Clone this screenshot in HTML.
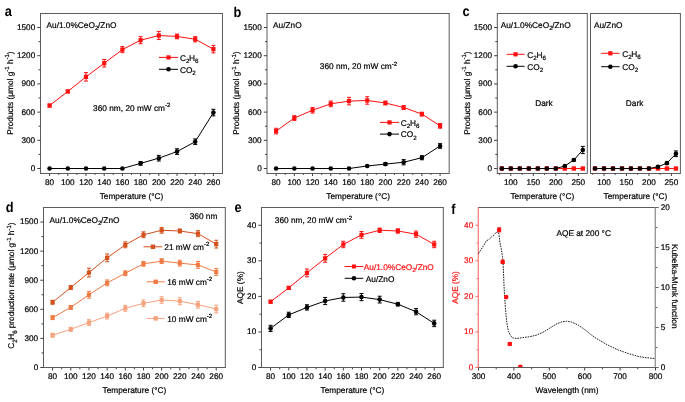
<!DOCTYPE html>
<html><head><meta charset="utf-8"><style>
html,body{margin:0;padding:0;background:#fff;}
svg{display:block;font-family:"Liberation Sans", sans-serif;text-rendering:geometricPrecision;}
</style></head><body>
<svg style="filter:blur(0.3px)" width="685" height="402" viewBox="0 0 685 402">
<rect width="685" height="402" fill="#fff"/>
<text transform="translate(4.8,15.8) scale(0.9,1)" font-size="14.2" font-weight="bold" fill="#000">a</text>
<line x1="40" y1="13.5" x2="223" y2="13.5" stroke="#5c5c5c" stroke-width="1"/>
<line x1="40" y1="173.5" x2="223" y2="173.5" stroke="#5c5c5c" stroke-width="1"/>
<line x1="40.5" y1="13.5" x2="40.5" y2="173.5" stroke="#5c5c5c" stroke-width="1"/>
<line x1="222.5" y1="13.5" x2="222.5" y2="173.5" stroke="#5c5c5c" stroke-width="1"/>
<line x1="49.6" y1="173.5" x2="49.6" y2="176" stroke="#404040" stroke-width="1"/>
<text x="49.6" y="184.9" font-size="8.2" text-anchor="middle" fill="#000" stroke="#000" stroke-width="0.2" font-weight="normal" >80</text>
<line x1="67.8" y1="173.5" x2="67.8" y2="176" stroke="#404040" stroke-width="1"/>
<text x="67.8" y="184.9" font-size="8.2" text-anchor="middle" fill="#000" stroke="#000" stroke-width="0.2" font-weight="normal" >100</text>
<line x1="86" y1="173.5" x2="86" y2="176" stroke="#404040" stroke-width="1"/>
<text x="86" y="184.9" font-size="8.2" text-anchor="middle" fill="#000" stroke="#000" stroke-width="0.2" font-weight="normal" >120</text>
<line x1="104.2" y1="173.5" x2="104.2" y2="176" stroke="#404040" stroke-width="1"/>
<text x="104.2" y="184.9" font-size="8.2" text-anchor="middle" fill="#000" stroke="#000" stroke-width="0.2" font-weight="normal" >140</text>
<line x1="122.4" y1="173.5" x2="122.4" y2="176" stroke="#404040" stroke-width="1"/>
<text x="122.4" y="184.9" font-size="8.2" text-anchor="middle" fill="#000" stroke="#000" stroke-width="0.2" font-weight="normal" >160</text>
<line x1="140.6" y1="173.5" x2="140.6" y2="176" stroke="#404040" stroke-width="1"/>
<text x="140.6" y="184.9" font-size="8.2" text-anchor="middle" fill="#000" stroke="#000" stroke-width="0.2" font-weight="normal" >180</text>
<line x1="158.8" y1="173.5" x2="158.8" y2="176" stroke="#404040" stroke-width="1"/>
<text x="158.8" y="184.9" font-size="8.2" text-anchor="middle" fill="#000" stroke="#000" stroke-width="0.2" font-weight="normal" >200</text>
<line x1="177" y1="173.5" x2="177" y2="176" stroke="#404040" stroke-width="1"/>
<text x="177" y="184.9" font-size="8.2" text-anchor="middle" fill="#000" stroke="#000" stroke-width="0.2" font-weight="normal" >220</text>
<line x1="195.2" y1="173.5" x2="195.2" y2="176" stroke="#404040" stroke-width="1"/>
<text x="195.2" y="184.9" font-size="8.2" text-anchor="middle" fill="#000" stroke="#000" stroke-width="0.2" font-weight="normal" >240</text>
<line x1="213.4" y1="173.5" x2="213.4" y2="176" stroke="#404040" stroke-width="1"/>
<text x="213.4" y="184.9" font-size="8.2" text-anchor="middle" fill="#000" stroke="#000" stroke-width="0.2" font-weight="normal" >260</text>
<line x1="58.7" y1="173.5" x2="58.7" y2="174.9" stroke="#404040" stroke-width="1"/>
<line x1="76.9" y1="173.5" x2="76.9" y2="174.9" stroke="#404040" stroke-width="1"/>
<line x1="95.1" y1="173.5" x2="95.1" y2="174.9" stroke="#404040" stroke-width="1"/>
<line x1="113.3" y1="173.5" x2="113.3" y2="174.9" stroke="#404040" stroke-width="1"/>
<line x1="131.5" y1="173.5" x2="131.5" y2="174.9" stroke="#404040" stroke-width="1"/>
<line x1="149.7" y1="173.5" x2="149.7" y2="174.9" stroke="#404040" stroke-width="1"/>
<line x1="167.9" y1="173.5" x2="167.9" y2="174.9" stroke="#404040" stroke-width="1"/>
<line x1="186.1" y1="173.5" x2="186.1" y2="174.9" stroke="#404040" stroke-width="1"/>
<line x1="204.3" y1="173.5" x2="204.3" y2="174.9" stroke="#404040" stroke-width="1"/>
<line x1="40.5" y1="168.52" x2="37.3" y2="168.52" stroke="#404040" stroke-width="1"/>
<text x="35.2" y="170.92" font-size="8.2" text-anchor="end" fill="#000" stroke="#000" stroke-width="0.2" font-weight="normal" >0</text>
<line x1="40.5" y1="140.32" x2="37.3" y2="140.32" stroke="#404040" stroke-width="1"/>
<text x="35.2" y="142.72" font-size="8.2" text-anchor="end" fill="#000" stroke="#000" stroke-width="0.2" font-weight="normal" >300</text>
<line x1="40.5" y1="112.11" x2="37.3" y2="112.11" stroke="#404040" stroke-width="1"/>
<text x="35.2" y="114.51" font-size="8.2" text-anchor="end" fill="#000" stroke="#000" stroke-width="0.2" font-weight="normal" >600</text>
<line x1="40.5" y1="83.91" x2="37.3" y2="83.91" stroke="#404040" stroke-width="1"/>
<text x="35.2" y="86.31" font-size="8.2" text-anchor="end" fill="#000" stroke="#000" stroke-width="0.2" font-weight="normal" >900</text>
<line x1="40.5" y1="55.71" x2="37.3" y2="55.71" stroke="#404040" stroke-width="1"/>
<text x="35.2" y="58.11" font-size="8.2" text-anchor="end" fill="#000" stroke="#000" stroke-width="0.2" font-weight="normal" >1200</text>
<line x1="40.5" y1="27.51" x2="37.3" y2="27.51" stroke="#404040" stroke-width="1"/>
<text x="35.2" y="29.91" font-size="8.2" text-anchor="end" fill="#000" stroke="#000" stroke-width="0.2" font-weight="normal" >1500</text>
<line x1="40.5" y1="154.42" x2="38.5" y2="154.42" stroke="#404040" stroke-width="1"/>
<line x1="40.5" y1="126.21" x2="38.5" y2="126.21" stroke="#404040" stroke-width="1"/>
<line x1="40.5" y1="98.01" x2="38.5" y2="98.01" stroke="#404040" stroke-width="1"/>
<line x1="40.5" y1="69.81" x2="38.5" y2="69.81" stroke="#404040" stroke-width="1"/>
<line x1="40.5" y1="41.61" x2="38.5" y2="41.61" stroke="#404040" stroke-width="1"/>
<text x="131.5" y="199.2" font-size="8.3" text-anchor="middle" fill="#000" stroke="#000" stroke-width="0.2" font-weight="normal" >Temperature (°C)</text>
<text transform="translate(13,93) rotate(-90)" x="0" y="0" font-size="8.3" text-anchor="middle" fill="#000" stroke="#000" stroke-width="0.2">Products (μmol g<tspan font-size="6.0" dy="-3.8">-1</tspan><tspan dy="3.8"> h</tspan><tspan font-size="6.0" dy="-3.8">-1</tspan><tspan dy="3.8">)</tspan></text>
<text x="46.5" y="28.3" font-size="8.3" text-anchor="start" fill="#000" stroke="#000" stroke-width="0.2" font-weight="normal" >Au/1.0%CeO<tspan font-size="6.2" dy="2.1" letter-spacing="-0.35">2</tspan><tspan dy="-2.1">/ZnO</tspan></text>
<text x="93.1" y="110.8" font-size="8.3" text-anchor="start" fill="#000" stroke="#000" stroke-width="0.2" font-weight="normal" >360 nm, 20 mW cm<tspan font-size="6.0" dy="-3.8">-2</tspan></text>
<polyline points="49.6,105.53 67.8,91.43 86,76.86 104.2,63.23 122.4,49.6 140.6,40.2 158.8,35.5 177,36.44 195.2,39.26 213.4,49.13" fill="none" stroke="#ff1010" stroke-width="1"/>
<path d="M49.6,104.12V106.94M47.6,104.12h4M47.6,106.94h4" stroke="#ff1010" stroke-width="1" fill="none"/>
<path d="M67.8,90.02V92.84M65.8,90.02h4M65.8,92.84h4" stroke="#ff1010" stroke-width="1" fill="none"/>
<path d="M86,72.63V81.09M84,72.63h4M84,81.09h4" stroke="#ff1010" stroke-width="1" fill="none"/>
<path d="M104.2,59.47V66.99M102.2,59.47h4M102.2,66.99h4" stroke="#ff1010" stroke-width="1" fill="none"/>
<path d="M122.4,46.59V52.61M120.4,46.59h4M120.4,52.61h4" stroke="#ff1010" stroke-width="1" fill="none"/>
<path d="M140.6,36.63V43.77M138.6,36.63h4M138.6,43.77h4" stroke="#ff1010" stroke-width="1" fill="none"/>
<path d="M158.8,31.46V39.54M156.8,31.46h4M156.8,39.54h4" stroke="#ff1010" stroke-width="1" fill="none"/>
<path d="M177,34.09V38.79M175,34.09h4M175,38.79h4" stroke="#ff1010" stroke-width="1" fill="none"/>
<path d="M195.2,36.63V41.89M193.2,36.63h4M193.2,41.89h4" stroke="#ff1010" stroke-width="1" fill="none"/>
<path d="M213.4,45.37V52.89M211.4,45.37h4M211.4,52.89h4" stroke="#ff1010" stroke-width="1" fill="none"/>
<rect x="47.5" y="103.43" width="4.2" height="4.2" fill="#ff1010"/>
<rect x="65.7" y="89.33" width="4.2" height="4.2" fill="#ff1010"/>
<rect x="83.9" y="74.76" width="4.2" height="4.2" fill="#ff1010"/>
<rect x="102.1" y="61.13" width="4.2" height="4.2" fill="#ff1010"/>
<rect x="120.3" y="47.5" width="4.2" height="4.2" fill="#ff1010"/>
<rect x="138.5" y="38.1" width="4.2" height="4.2" fill="#ff1010"/>
<rect x="156.7" y="33.4" width="4.2" height="4.2" fill="#ff1010"/>
<rect x="174.9" y="34.34" width="4.2" height="4.2" fill="#ff1010"/>
<rect x="193.1" y="37.16" width="4.2" height="4.2" fill="#ff1010"/>
<rect x="211.3" y="47.03" width="4.2" height="4.2" fill="#ff1010"/>
<polyline points="49.6,168.52 67.8,168.52 86,168.52 104.2,168.52 122.4,168.52 140.6,163.35 158.8,158.18 177,151.6 195.2,141.73 213.4,112.58" fill="none" stroke="#000000" stroke-width="1"/>
<path d="M140.6,161.47V165.23M138.6,161.47h4M138.6,165.23h4" stroke="#000000" stroke-width="1" fill="none"/>
<path d="M158.8,155.36V161M156.8,155.36h4M156.8,161h4" stroke="#000000" stroke-width="1" fill="none"/>
<path d="M177,148.78V154.42M175,148.78h4M175,154.42h4" stroke="#000000" stroke-width="1" fill="none"/>
<path d="M195.2,138.91V144.55M193.2,138.91h4M193.2,144.55h4" stroke="#000000" stroke-width="1" fill="none"/>
<path d="M213.4,109.29V115.87M211.4,109.29h4M211.4,115.87h4" stroke="#000000" stroke-width="1" fill="none"/>
<circle cx="49.6" cy="168.52" r="2.3" fill="#000000"/>
<circle cx="67.8" cy="168.52" r="2.3" fill="#000000"/>
<circle cx="86" cy="168.52" r="2.3" fill="#000000"/>
<circle cx="104.2" cy="168.52" r="2.3" fill="#000000"/>
<circle cx="122.4" cy="168.52" r="2.3" fill="#000000"/>
<circle cx="140.6" cy="163.35" r="2.3" fill="#000000"/>
<circle cx="158.8" cy="158.18" r="2.3" fill="#000000"/>
<circle cx="177" cy="151.6" r="2.3" fill="#000000"/>
<circle cx="195.2" cy="141.73" r="2.3" fill="#000000"/>
<circle cx="213.4" cy="112.58" r="2.3" fill="#000000"/>
<line x1="159" y1="57.4" x2="178" y2="57.4" stroke="#ff1010" stroke-width="1"/>
<rect x="166.4" y="55.3" width="4.2" height="4.2" fill="#ff1010"/>
<text x="179.9" y="60.7" font-size="8.3" fill="#000" stroke="#000" stroke-width="0.2">C<tspan font-size="6.2" dy="2.1" letter-spacing="-0.35">2</tspan><tspan dy="-2.1">H</tspan><tspan font-size="6.2" dy="2.1" letter-spacing="-0.35">6</tspan></text>
<line x1="159" y1="69.3" x2="178" y2="69.3" stroke="#000000" stroke-width="1"/>
<circle cx="168.5" cy="69.3" r="2.3" fill="#000000"/>
<text x="179.9" y="72.6" font-size="8.3" fill="#000" stroke="#000" stroke-width="0.2">CO<tspan font-size="6.2" dy="2.1" letter-spacing="-0.35">2</tspan></text>
<text transform="translate(233.6,16.6) scale(0.9,1)" font-size="14.2" font-weight="bold" fill="#000">b</text>
<line x1="266.5" y1="13.5" x2="449.7" y2="13.5" stroke="#5c5c5c" stroke-width="1"/>
<line x1="266.5" y1="173.5" x2="449.7" y2="173.5" stroke="#5c5c5c" stroke-width="1"/>
<line x1="267" y1="13.5" x2="267" y2="173.5" stroke="#5c5c5c" stroke-width="1"/>
<line x1="449.2" y1="13.5" x2="449.2" y2="173.5" stroke="#5c5c5c" stroke-width="1"/>
<line x1="276.11" y1="173.5" x2="276.11" y2="176" stroke="#404040" stroke-width="1"/>
<text x="276.11" y="184.9" font-size="8.2" text-anchor="middle" fill="#000" stroke="#000" stroke-width="0.2" font-weight="normal" >80</text>
<line x1="294.33" y1="173.5" x2="294.33" y2="176" stroke="#404040" stroke-width="1"/>
<text x="294.33" y="184.9" font-size="8.2" text-anchor="middle" fill="#000" stroke="#000" stroke-width="0.2" font-weight="normal" >100</text>
<line x1="312.55" y1="173.5" x2="312.55" y2="176" stroke="#404040" stroke-width="1"/>
<text x="312.55" y="184.9" font-size="8.2" text-anchor="middle" fill="#000" stroke="#000" stroke-width="0.2" font-weight="normal" >120</text>
<line x1="330.77" y1="173.5" x2="330.77" y2="176" stroke="#404040" stroke-width="1"/>
<text x="330.77" y="184.9" font-size="8.2" text-anchor="middle" fill="#000" stroke="#000" stroke-width="0.2" font-weight="normal" >140</text>
<line x1="348.99" y1="173.5" x2="348.99" y2="176" stroke="#404040" stroke-width="1"/>
<text x="348.99" y="184.9" font-size="8.2" text-anchor="middle" fill="#000" stroke="#000" stroke-width="0.2" font-weight="normal" >160</text>
<line x1="367.21" y1="173.5" x2="367.21" y2="176" stroke="#404040" stroke-width="1"/>
<text x="367.21" y="184.9" font-size="8.2" text-anchor="middle" fill="#000" stroke="#000" stroke-width="0.2" font-weight="normal" >180</text>
<line x1="385.43" y1="173.5" x2="385.43" y2="176" stroke="#404040" stroke-width="1"/>
<text x="385.43" y="184.9" font-size="8.2" text-anchor="middle" fill="#000" stroke="#000" stroke-width="0.2" font-weight="normal" >200</text>
<line x1="403.65" y1="173.5" x2="403.65" y2="176" stroke="#404040" stroke-width="1"/>
<text x="403.65" y="184.9" font-size="8.2" text-anchor="middle" fill="#000" stroke="#000" stroke-width="0.2" font-weight="normal" >220</text>
<line x1="421.87" y1="173.5" x2="421.87" y2="176" stroke="#404040" stroke-width="1"/>
<text x="421.87" y="184.9" font-size="8.2" text-anchor="middle" fill="#000" stroke="#000" stroke-width="0.2" font-weight="normal" >240</text>
<line x1="440.09" y1="173.5" x2="440.09" y2="176" stroke="#404040" stroke-width="1"/>
<text x="440.09" y="184.9" font-size="8.2" text-anchor="middle" fill="#000" stroke="#000" stroke-width="0.2" font-weight="normal" >260</text>
<line x1="285.22" y1="173.5" x2="285.22" y2="174.9" stroke="#404040" stroke-width="1"/>
<line x1="303.44" y1="173.5" x2="303.44" y2="174.9" stroke="#404040" stroke-width="1"/>
<line x1="321.66" y1="173.5" x2="321.66" y2="174.9" stroke="#404040" stroke-width="1"/>
<line x1="339.88" y1="173.5" x2="339.88" y2="174.9" stroke="#404040" stroke-width="1"/>
<line x1="358.1" y1="173.5" x2="358.1" y2="174.9" stroke="#404040" stroke-width="1"/>
<line x1="376.32" y1="173.5" x2="376.32" y2="174.9" stroke="#404040" stroke-width="1"/>
<line x1="394.54" y1="173.5" x2="394.54" y2="174.9" stroke="#404040" stroke-width="1"/>
<line x1="412.76" y1="173.5" x2="412.76" y2="174.9" stroke="#404040" stroke-width="1"/>
<line x1="430.98" y1="173.5" x2="430.98" y2="174.9" stroke="#404040" stroke-width="1"/>
<line x1="267" y1="168.52" x2="263.8" y2="168.52" stroke="#404040" stroke-width="1"/>
<text x="261.7" y="170.92" font-size="8.2" text-anchor="end" fill="#000" stroke="#000" stroke-width="0.2" font-weight="normal" >0</text>
<line x1="267" y1="140.32" x2="263.8" y2="140.32" stroke="#404040" stroke-width="1"/>
<text x="261.7" y="142.72" font-size="8.2" text-anchor="end" fill="#000" stroke="#000" stroke-width="0.2" font-weight="normal" >300</text>
<line x1="267" y1="112.11" x2="263.8" y2="112.11" stroke="#404040" stroke-width="1"/>
<text x="261.7" y="114.51" font-size="8.2" text-anchor="end" fill="#000" stroke="#000" stroke-width="0.2" font-weight="normal" >600</text>
<line x1="267" y1="83.91" x2="263.8" y2="83.91" stroke="#404040" stroke-width="1"/>
<text x="261.7" y="86.31" font-size="8.2" text-anchor="end" fill="#000" stroke="#000" stroke-width="0.2" font-weight="normal" >900</text>
<line x1="267" y1="55.71" x2="263.8" y2="55.71" stroke="#404040" stroke-width="1"/>
<text x="261.7" y="58.11" font-size="8.2" text-anchor="end" fill="#000" stroke="#000" stroke-width="0.2" font-weight="normal" >1200</text>
<line x1="267" y1="27.51" x2="263.8" y2="27.51" stroke="#404040" stroke-width="1"/>
<text x="261.7" y="29.91" font-size="8.2" text-anchor="end" fill="#000" stroke="#000" stroke-width="0.2" font-weight="normal" >1500</text>
<line x1="267" y1="154.42" x2="265" y2="154.42" stroke="#404040" stroke-width="1"/>
<line x1="267" y1="126.21" x2="265" y2="126.21" stroke="#404040" stroke-width="1"/>
<line x1="267" y1="98.01" x2="265" y2="98.01" stroke="#404040" stroke-width="1"/>
<line x1="267" y1="69.81" x2="265" y2="69.81" stroke="#404040" stroke-width="1"/>
<line x1="267" y1="41.61" x2="265" y2="41.61" stroke="#404040" stroke-width="1"/>
<text x="358.1" y="199.2" font-size="8.3" text-anchor="middle" fill="#000" stroke="#000" stroke-width="0.2" font-weight="normal" >Temperature (°C)</text>
<text transform="translate(239.4,93) rotate(-90)" x="0" y="0" font-size="8.3" text-anchor="middle" fill="#000" stroke="#000" stroke-width="0.2">Products (μmol g<tspan font-size="6.0" dy="-3.8">-1</tspan><tspan dy="3.8"> h</tspan><tspan font-size="6.0" dy="-3.8">-1</tspan><tspan dy="3.8">)</tspan></text>
<text x="273" y="28.3" font-size="8.3" text-anchor="start" fill="#000" stroke="#000" stroke-width="0.2" font-weight="normal" >Au/ZnO</text>
<text x="319.8" y="69.4" font-size="8.3" text-anchor="start" fill="#000" stroke="#000" stroke-width="0.2" font-weight="normal" >360 nm, 20 mW cm<tspan font-size="6.0" dy="-3.8">-2</tspan></text>
<polyline points="276.11,131.1 294.33,118.04 312.55,110.23 330.77,103.84 348.99,101.11 367.21,100.46 385.43,102.99 403.65,107.51 421.87,114.09 440.09,125.84" fill="none" stroke="#ff1010" stroke-width="1"/>
<path d="M276.11,128.28V133.92M274.11,128.28h4M274.11,133.92h4" stroke="#ff1010" stroke-width="1" fill="none"/>
<path d="M294.33,115.69V120.39M292.33,115.69h4M292.33,120.39h4" stroke="#ff1010" stroke-width="1" fill="none"/>
<path d="M312.55,107.41V113.05M310.55,107.41h4M310.55,113.05h4" stroke="#ff1010" stroke-width="1" fill="none"/>
<path d="M330.77,101.02V106.66M328.77,101.02h4M328.77,106.66h4" stroke="#ff1010" stroke-width="1" fill="none"/>
<path d="M348.99,97.35V104.87M346.99,97.35h4M346.99,104.87h4" stroke="#ff1010" stroke-width="1" fill="none"/>
<path d="M367.21,96.7V104.22M365.21,96.7h4M365.21,104.22h4" stroke="#ff1010" stroke-width="1" fill="none"/>
<path d="M385.43,101.11V104.87M383.43,101.11h4M383.43,104.87h4" stroke="#ff1010" stroke-width="1" fill="none"/>
<path d="M403.65,105.63V109.39M401.65,105.63h4M401.65,109.39h4" stroke="#ff1010" stroke-width="1" fill="none"/>
<path d="M421.87,112.21V115.97M419.87,112.21h4M419.87,115.97h4" stroke="#ff1010" stroke-width="1" fill="none"/>
<path d="M440.09,123.49V128.19M438.09,123.49h4M438.09,128.19h4" stroke="#ff1010" stroke-width="1" fill="none"/>
<rect x="274.01" y="129" width="4.2" height="4.2" fill="#ff1010"/>
<rect x="292.23" y="115.94" width="4.2" height="4.2" fill="#ff1010"/>
<rect x="310.45" y="108.13" width="4.2" height="4.2" fill="#ff1010"/>
<rect x="328.67" y="101.74" width="4.2" height="4.2" fill="#ff1010"/>
<rect x="346.89" y="99.01" width="4.2" height="4.2" fill="#ff1010"/>
<rect x="365.11" y="98.36" width="4.2" height="4.2" fill="#ff1010"/>
<rect x="383.33" y="100.89" width="4.2" height="4.2" fill="#ff1010"/>
<rect x="401.55" y="105.41" width="4.2" height="4.2" fill="#ff1010"/>
<rect x="419.77" y="111.99" width="4.2" height="4.2" fill="#ff1010"/>
<rect x="437.99" y="123.74" width="4.2" height="4.2" fill="#ff1010"/>
<polyline points="276.11,168.52 294.33,168.52 312.55,168.52 330.77,168.52 348.99,168.52 367.21,165.98 385.43,164.1 403.65,162.22 421.87,157.71 440.09,145.96" fill="none" stroke="#000000" stroke-width="1"/>
<path d="M367.21,165.51V166.45M365.21,165.51h4M365.21,166.45h4" stroke="#000000" stroke-width="1" fill="none"/>
<path d="M385.43,162.69V165.51M383.43,162.69h4M383.43,165.51h4" stroke="#000000" stroke-width="1" fill="none"/>
<path d="M403.65,159.59V164.85M401.65,159.59h4M401.65,164.85h4" stroke="#000000" stroke-width="1" fill="none"/>
<path d="M421.87,155.64V159.77M419.87,155.64h4M419.87,159.77h4" stroke="#000000" stroke-width="1" fill="none"/>
<path d="M440.09,143.61V148.31M438.09,143.61h4M438.09,148.31h4" stroke="#000000" stroke-width="1" fill="none"/>
<circle cx="276.11" cy="168.52" r="2.3" fill="#000000"/>
<circle cx="294.33" cy="168.52" r="2.3" fill="#000000"/>
<circle cx="312.55" cy="168.52" r="2.3" fill="#000000"/>
<circle cx="330.77" cy="168.52" r="2.3" fill="#000000"/>
<circle cx="348.99" cy="168.52" r="2.3" fill="#000000"/>
<circle cx="367.21" cy="165.98" r="2.3" fill="#000000"/>
<circle cx="385.43" cy="164.1" r="2.3" fill="#000000"/>
<circle cx="403.65" cy="162.22" r="2.3" fill="#000000"/>
<circle cx="421.87" cy="157.71" r="2.3" fill="#000000"/>
<circle cx="440.09" cy="145.96" r="2.3" fill="#000000"/>
<line x1="380" y1="122.4" x2="399" y2="122.4" stroke="#ff1010" stroke-width="1"/>
<rect x="387.4" y="120.3" width="4.2" height="4.2" fill="#ff1010"/>
<text x="400.8" y="125.7" font-size="8.3" fill="#000" stroke="#000" stroke-width="0.2">C<tspan font-size="6.2" dy="2.1" letter-spacing="-0.35">2</tspan><tspan dy="-2.1">H</tspan><tspan font-size="6.2" dy="2.1" letter-spacing="-0.35">6</tspan></text>
<line x1="380" y1="134.1" x2="399" y2="134.1" stroke="#000000" stroke-width="1"/>
<circle cx="389.5" cy="134.1" r="2.3" fill="#000000"/>
<text x="400.8" y="137.4" font-size="8.3" fill="#000" stroke="#000" stroke-width="0.2">CO<tspan font-size="6.2" dy="2.1" letter-spacing="-0.35">2</tspan></text>
<text transform="translate(462.4,15.9) scale(0.9,1)" font-size="14.2" font-weight="bold" fill="#000">c</text>
<line x1="496.8" y1="13.5" x2="587.8" y2="13.5" stroke="#5c5c5c" stroke-width="1"/>
<line x1="496.8" y1="173.5" x2="587.8" y2="173.5" stroke="#5c5c5c" stroke-width="1"/>
<line x1="497.3" y1="13.5" x2="497.3" y2="173.5" stroke="#5c5c5c" stroke-width="1"/>
<line x1="587.3" y1="13.5" x2="587.3" y2="173.5" stroke="#5c5c5c" stroke-width="1"/>
<line x1="510.8" y1="173.5" x2="510.8" y2="176" stroke="#404040" stroke-width="1"/>
<text x="510.8" y="184.9" font-size="8.2" text-anchor="middle" fill="#000" stroke="#000" stroke-width="0.2" font-weight="normal" >100</text>
<line x1="533.3" y1="173.5" x2="533.3" y2="176" stroke="#404040" stroke-width="1"/>
<text x="533.3" y="184.9" font-size="8.2" text-anchor="middle" fill="#000" stroke="#000" stroke-width="0.2" font-weight="normal" >150</text>
<line x1="555.8" y1="173.5" x2="555.8" y2="176" stroke="#404040" stroke-width="1"/>
<text x="555.8" y="184.9" font-size="8.2" text-anchor="middle" fill="#000" stroke="#000" stroke-width="0.2" font-weight="normal" >200</text>
<line x1="578.3" y1="173.5" x2="578.3" y2="176" stroke="#404040" stroke-width="1"/>
<text x="578.3" y="184.9" font-size="8.2" text-anchor="middle" fill="#000" stroke="#000" stroke-width="0.2" font-weight="normal" >250</text>
<line x1="499.55" y1="173.5" x2="499.55" y2="174.9" stroke="#404040" stroke-width="1"/>
<line x1="522.05" y1="173.5" x2="522.05" y2="174.9" stroke="#404040" stroke-width="1"/>
<line x1="544.55" y1="173.5" x2="544.55" y2="174.9" stroke="#404040" stroke-width="1"/>
<line x1="567.05" y1="173.5" x2="567.05" y2="174.9" stroke="#404040" stroke-width="1"/>
<text x="542.3" y="199.2" font-size="8.3" text-anchor="middle" fill="#000" stroke="#000" stroke-width="0.2" font-weight="normal" >Temperature (°C)</text>
<line x1="590" y1="13.5" x2="680.9" y2="13.5" stroke="#5c5c5c" stroke-width="1"/>
<line x1="590" y1="173.5" x2="680.9" y2="173.5" stroke="#5c5c5c" stroke-width="1"/>
<line x1="590.5" y1="13.5" x2="590.5" y2="173.5" stroke="#5c5c5c" stroke-width="1"/>
<line x1="680.4" y1="13.5" x2="680.4" y2="173.5" stroke="#5c5c5c" stroke-width="1"/>
<line x1="603.99" y1="173.5" x2="603.99" y2="176" stroke="#404040" stroke-width="1"/>
<text x="603.99" y="184.9" font-size="8.2" text-anchor="middle" fill="#000" stroke="#000" stroke-width="0.2" font-weight="normal" >100</text>
<line x1="626.46" y1="173.5" x2="626.46" y2="176" stroke="#404040" stroke-width="1"/>
<text x="626.46" y="184.9" font-size="8.2" text-anchor="middle" fill="#000" stroke="#000" stroke-width="0.2" font-weight="normal" >150</text>
<line x1="648.93" y1="173.5" x2="648.93" y2="176" stroke="#404040" stroke-width="1"/>
<text x="648.93" y="184.9" font-size="8.2" text-anchor="middle" fill="#000" stroke="#000" stroke-width="0.2" font-weight="normal" >200</text>
<line x1="671.41" y1="173.5" x2="671.41" y2="176" stroke="#404040" stroke-width="1"/>
<text x="671.41" y="184.9" font-size="8.2" text-anchor="middle" fill="#000" stroke="#000" stroke-width="0.2" font-weight="normal" >250</text>
<line x1="592.75" y1="173.5" x2="592.75" y2="174.9" stroke="#404040" stroke-width="1"/>
<line x1="615.22" y1="173.5" x2="615.22" y2="174.9" stroke="#404040" stroke-width="1"/>
<line x1="637.7" y1="173.5" x2="637.7" y2="174.9" stroke="#404040" stroke-width="1"/>
<line x1="660.17" y1="173.5" x2="660.17" y2="174.9" stroke="#404040" stroke-width="1"/>
<text x="635.45" y="199.2" font-size="8.3" text-anchor="middle" fill="#000" stroke="#000" stroke-width="0.2" font-weight="normal" >Temperature (°C)</text>
<line x1="497.3" y1="168.52" x2="494.1" y2="168.52" stroke="#404040" stroke-width="1"/>
<text x="492" y="170.92" font-size="8.2" text-anchor="end" fill="#000" stroke="#000" stroke-width="0.2" font-weight="normal" >0</text>
<line x1="497.3" y1="140.32" x2="494.1" y2="140.32" stroke="#404040" stroke-width="1"/>
<text x="492" y="142.72" font-size="8.2" text-anchor="end" fill="#000" stroke="#000" stroke-width="0.2" font-weight="normal" >300</text>
<line x1="497.3" y1="112.11" x2="494.1" y2="112.11" stroke="#404040" stroke-width="1"/>
<text x="492" y="114.51" font-size="8.2" text-anchor="end" fill="#000" stroke="#000" stroke-width="0.2" font-weight="normal" >600</text>
<line x1="497.3" y1="83.91" x2="494.1" y2="83.91" stroke="#404040" stroke-width="1"/>
<text x="492" y="86.31" font-size="8.2" text-anchor="end" fill="#000" stroke="#000" stroke-width="0.2" font-weight="normal" >900</text>
<line x1="497.3" y1="55.71" x2="494.1" y2="55.71" stroke="#404040" stroke-width="1"/>
<text x="492" y="58.11" font-size="8.2" text-anchor="end" fill="#000" stroke="#000" stroke-width="0.2" font-weight="normal" >1200</text>
<line x1="497.3" y1="27.51" x2="494.1" y2="27.51" stroke="#404040" stroke-width="1"/>
<text x="492" y="29.91" font-size="8.2" text-anchor="end" fill="#000" stroke="#000" stroke-width="0.2" font-weight="normal" >1500</text>
<line x1="497.3" y1="154.42" x2="495.3" y2="154.42" stroke="#404040" stroke-width="1"/>
<line x1="497.3" y1="126.21" x2="495.3" y2="126.21" stroke="#404040" stroke-width="1"/>
<line x1="497.3" y1="98.01" x2="495.3" y2="98.01" stroke="#404040" stroke-width="1"/>
<line x1="497.3" y1="69.81" x2="495.3" y2="69.81" stroke="#404040" stroke-width="1"/>
<line x1="497.3" y1="41.61" x2="495.3" y2="41.61" stroke="#404040" stroke-width="1"/>
<text transform="translate(469.7,93) rotate(-90)" x="0" y="0" font-size="8.3" text-anchor="middle" fill="#000" stroke="#000" stroke-width="0.2">Products (μmol g<tspan font-size="6.0" dy="-3.8">-1</tspan><tspan dy="3.8"> h</tspan><tspan font-size="6.0" dy="-3.8">-1</tspan><tspan dy="3.8">)</tspan></text>
<text x="500.7" y="28.3" font-size="8.3" text-anchor="start" fill="#000" stroke="#000" stroke-width="0.2" font-weight="normal" >Au/1.0%CeO<tspan font-size="6.2" dy="2.1" letter-spacing="-0.35">2</tspan><tspan dy="-2.1">/ZnO</tspan></text>
<text x="593.9" y="28.3" font-size="8.3" text-anchor="start" fill="#000" stroke="#000" stroke-width="0.2" font-weight="normal" >Au/ZnO</text>
<text x="535.2" y="106" font-size="8.3" text-anchor="start" fill="#000" stroke="#000" stroke-width="0.2" font-weight="normal" >Dark</text>
<text x="625.8" y="105.5" font-size="8.3" text-anchor="start" fill="#000" stroke="#000" stroke-width="0.2" font-weight="normal" >Dark</text>
<polyline points="501.8,168.52 510.8,168.52 519.8,168.52 528.8,168.52 537.8,168.52 546.8,168.52 555.8,168.52 564.8,168.52 573.8,168.52 582.8,168.52" fill="none" stroke="#ff1010" stroke-width="1"/>
<rect x="499.6" y="166.32" width="4.4" height="4.4" fill="#ff1010"/>
<rect x="508.6" y="166.32" width="4.4" height="4.4" fill="#ff1010"/>
<rect x="517.6" y="166.32" width="4.4" height="4.4" fill="#ff1010"/>
<rect x="526.6" y="166.32" width="4.4" height="4.4" fill="#ff1010"/>
<rect x="535.6" y="166.32" width="4.4" height="4.4" fill="#ff1010"/>
<rect x="544.6" y="166.32" width="4.4" height="4.4" fill="#ff1010"/>
<rect x="553.6" y="166.32" width="4.4" height="4.4" fill="#ff1010"/>
<rect x="562.6" y="166.32" width="4.4" height="4.4" fill="#ff1010"/>
<rect x="571.6" y="166.32" width="4.4" height="4.4" fill="#ff1010"/>
<rect x="580.6" y="166.32" width="4.4" height="4.4" fill="#ff1010"/>
<polyline points="501.8,168.52 510.8,168.52 519.8,168.52 528.8,168.52 537.8,168.52 546.8,168.52 555.8,168.52 564.8,165.98 573.8,160.06 582.8,150" fill="none" stroke="#000000" stroke-width="1"/>
<path d="M573.8,159.12V161M571.8,159.12h4M571.8,161h4" stroke="#000000" stroke-width="1" fill="none"/>
<path d="M582.8,146.43V153.57M580.8,146.43h4M580.8,153.57h4" stroke="#000000" stroke-width="1" fill="none"/>
<circle cx="501.8" cy="168.52" r="2.3" fill="#000000"/>
<circle cx="510.8" cy="168.52" r="2.3" fill="#000000"/>
<circle cx="519.8" cy="168.52" r="2.3" fill="#000000"/>
<circle cx="528.8" cy="168.52" r="2.3" fill="#000000"/>
<circle cx="537.8" cy="168.52" r="2.3" fill="#000000"/>
<circle cx="546.8" cy="168.52" r="2.3" fill="#000000"/>
<circle cx="555.8" cy="168.52" r="2.3" fill="#000000"/>
<circle cx="564.8" cy="165.98" r="2.3" fill="#000000"/>
<circle cx="573.8" cy="160.06" r="2.3" fill="#000000"/>
<circle cx="582.8" cy="150" r="2.3" fill="#000000"/>
<polyline points="595,168.52 603.99,168.52 612.98,168.52 621.97,168.52 630.96,168.52 639.94,168.52 648.93,168.52 657.92,168.52 666.91,168.52 675.9,168.52" fill="none" stroke="#ff1010" stroke-width="1"/>
<rect x="592.79" y="166.32" width="4.4" height="4.4" fill="#ff1010"/>
<rect x="601.78" y="166.32" width="4.4" height="4.4" fill="#ff1010"/>
<rect x="610.77" y="166.32" width="4.4" height="4.4" fill="#ff1010"/>
<rect x="619.76" y="166.32" width="4.4" height="4.4" fill="#ff1010"/>
<rect x="628.75" y="166.32" width="4.4" height="4.4" fill="#ff1010"/>
<rect x="637.74" y="166.32" width="4.4" height="4.4" fill="#ff1010"/>
<rect x="646.73" y="166.32" width="4.4" height="4.4" fill="#ff1010"/>
<rect x="655.72" y="166.32" width="4.4" height="4.4" fill="#ff1010"/>
<rect x="664.71" y="166.32" width="4.4" height="4.4" fill="#ff1010"/>
<rect x="673.7" y="166.32" width="4.4" height="4.4" fill="#ff1010"/>
<polyline points="595,168.52 603.99,168.52 612.98,168.52 621.97,168.52 630.96,168.52 639.94,168.52 648.93,168.52 657.92,166.83 666.91,163.16 675.9,153.76" fill="none" stroke="#000000" stroke-width="1"/>
<path d="M666.91,162.22V164.1M664.91,162.22h4M664.91,164.1h4" stroke="#000000" stroke-width="1" fill="none"/>
<path d="M675.9,150.94V156.58M673.9,150.94h4M673.9,156.58h4" stroke="#000000" stroke-width="1" fill="none"/>
<circle cx="595" cy="168.52" r="2.3" fill="#000000"/>
<circle cx="603.99" cy="168.52" r="2.3" fill="#000000"/>
<circle cx="612.98" cy="168.52" r="2.3" fill="#000000"/>
<circle cx="621.97" cy="168.52" r="2.3" fill="#000000"/>
<circle cx="630.96" cy="168.52" r="2.3" fill="#000000"/>
<circle cx="639.94" cy="168.52" r="2.3" fill="#000000"/>
<circle cx="648.93" cy="168.52" r="2.3" fill="#000000"/>
<circle cx="657.92" cy="166.83" r="2.3" fill="#000000"/>
<circle cx="666.91" cy="163.16" r="2.3" fill="#000000"/>
<circle cx="675.9" cy="153.76" r="2.3" fill="#000000"/>
<line x1="506.6" y1="54.3" x2="524.5" y2="54.3" stroke="#ff1010" stroke-width="1"/>
<rect x="513.45" y="52.2" width="4.2" height="4.2" fill="#ff1010"/>
<text x="527.3" y="57.6" font-size="8.3" fill="#000" stroke="#000" stroke-width="0.2">C<tspan font-size="6.2" dy="2.1" letter-spacing="-0.35">2</tspan><tspan dy="-2.1">H</tspan><tspan font-size="6.2" dy="2.1" letter-spacing="-0.35">6</tspan></text>
<line x1="506.6" y1="66.3" x2="524.5" y2="66.3" stroke="#000000" stroke-width="1"/>
<circle cx="515.55" cy="66.3" r="2.3" fill="#000000"/>
<text x="527.3" y="69.6" font-size="8.3" fill="#000" stroke="#000" stroke-width="0.2">CO<tspan font-size="6.2" dy="2.1" letter-spacing="-0.35">2</tspan></text>
<line x1="601.2" y1="53.3" x2="619.5" y2="53.3" stroke="#ff1010" stroke-width="1"/>
<rect x="608.25" y="51.2" width="4.2" height="4.2" fill="#ff1010"/>
<text x="622.2" y="56.6" font-size="8.3" fill="#000" stroke="#000" stroke-width="0.2">C<tspan font-size="6.2" dy="2.1" letter-spacing="-0.35">2</tspan><tspan dy="-2.1">H</tspan><tspan font-size="6.2" dy="2.1" letter-spacing="-0.35">6</tspan></text>
<line x1="601.2" y1="66.7" x2="619.5" y2="66.7" stroke="#000000" stroke-width="1"/>
<circle cx="610.35" cy="66.7" r="2.3" fill="#000000"/>
<text x="622.2" y="70" font-size="8.3" fill="#000" stroke="#000" stroke-width="0.2">CO<tspan font-size="6.2" dy="2.1" letter-spacing="-0.35">2</tspan></text>
<text transform="translate(5.8,211.9) scale(0.9,1)" font-size="14.2" font-weight="bold" fill="#000">d</text>
<line x1="43" y1="207.5" x2="225.8" y2="207.5" stroke="#5c5c5c" stroke-width="1"/>
<line x1="43" y1="367.5" x2="225.8" y2="367.5" stroke="#5c5c5c" stroke-width="1"/>
<line x1="43.5" y1="207.5" x2="43.5" y2="367.5" stroke="#5c5c5c" stroke-width="1"/>
<line x1="225.3" y1="207.5" x2="225.3" y2="367.5" stroke="#5c5c5c" stroke-width="1"/>
<line x1="52.59" y1="367.5" x2="52.59" y2="370.5" stroke="#404040" stroke-width="1"/>
<text x="52.59" y="378.9" font-size="8.2" text-anchor="middle" fill="#000" stroke="#000" stroke-width="0.2" font-weight="normal" >80</text>
<line x1="70.77" y1="367.5" x2="70.77" y2="370.5" stroke="#404040" stroke-width="1"/>
<text x="70.77" y="378.9" font-size="8.2" text-anchor="middle" fill="#000" stroke="#000" stroke-width="0.2" font-weight="normal" >100</text>
<line x1="88.95" y1="367.5" x2="88.95" y2="370.5" stroke="#404040" stroke-width="1"/>
<text x="88.95" y="378.9" font-size="8.2" text-anchor="middle" fill="#000" stroke="#000" stroke-width="0.2" font-weight="normal" >120</text>
<line x1="107.13" y1="367.5" x2="107.13" y2="370.5" stroke="#404040" stroke-width="1"/>
<text x="107.13" y="378.9" font-size="8.2" text-anchor="middle" fill="#000" stroke="#000" stroke-width="0.2" font-weight="normal" >140</text>
<line x1="125.31" y1="367.5" x2="125.31" y2="370.5" stroke="#404040" stroke-width="1"/>
<text x="125.31" y="378.9" font-size="8.2" text-anchor="middle" fill="#000" stroke="#000" stroke-width="0.2" font-weight="normal" >160</text>
<line x1="143.49" y1="367.5" x2="143.49" y2="370.5" stroke="#404040" stroke-width="1"/>
<text x="143.49" y="378.9" font-size="8.2" text-anchor="middle" fill="#000" stroke="#000" stroke-width="0.2" font-weight="normal" >180</text>
<line x1="161.67" y1="367.5" x2="161.67" y2="370.5" stroke="#404040" stroke-width="1"/>
<text x="161.67" y="378.9" font-size="8.2" text-anchor="middle" fill="#000" stroke="#000" stroke-width="0.2" font-weight="normal" >200</text>
<line x1="179.85" y1="367.5" x2="179.85" y2="370.5" stroke="#404040" stroke-width="1"/>
<text x="179.85" y="378.9" font-size="8.2" text-anchor="middle" fill="#000" stroke="#000" stroke-width="0.2" font-weight="normal" >220</text>
<line x1="198.03" y1="367.5" x2="198.03" y2="370.5" stroke="#404040" stroke-width="1"/>
<text x="198.03" y="378.9" font-size="8.2" text-anchor="middle" fill="#000" stroke="#000" stroke-width="0.2" font-weight="normal" >240</text>
<line x1="216.21" y1="367.5" x2="216.21" y2="370.5" stroke="#404040" stroke-width="1"/>
<text x="216.21" y="378.9" font-size="8.2" text-anchor="middle" fill="#000" stroke="#000" stroke-width="0.2" font-weight="normal" >260</text>
<line x1="61.68" y1="367.5" x2="61.68" y2="369.3" stroke="#404040" stroke-width="1"/>
<line x1="79.86" y1="367.5" x2="79.86" y2="369.3" stroke="#404040" stroke-width="1"/>
<line x1="98.04" y1="367.5" x2="98.04" y2="369.3" stroke="#404040" stroke-width="1"/>
<line x1="116.22" y1="367.5" x2="116.22" y2="369.3" stroke="#404040" stroke-width="1"/>
<line x1="134.4" y1="367.5" x2="134.4" y2="369.3" stroke="#404040" stroke-width="1"/>
<line x1="152.58" y1="367.5" x2="152.58" y2="369.3" stroke="#404040" stroke-width="1"/>
<line x1="170.76" y1="367.5" x2="170.76" y2="369.3" stroke="#404040" stroke-width="1"/>
<line x1="188.94" y1="367.5" x2="188.94" y2="369.3" stroke="#404040" stroke-width="1"/>
<line x1="207.12" y1="367.5" x2="207.12" y2="369.3" stroke="#404040" stroke-width="1"/>
<line x1="43.5" y1="367.5" x2="40.3" y2="367.5" stroke="#404040" stroke-width="1"/>
<text x="38.2" y="369.9" font-size="8.2" text-anchor="end" fill="#000" stroke="#000" stroke-width="0.2" font-weight="normal" >0</text>
<line x1="43.5" y1="338.41" x2="40.3" y2="338.41" stroke="#404040" stroke-width="1"/>
<text x="38.2" y="340.81" font-size="8.2" text-anchor="end" fill="#000" stroke="#000" stroke-width="0.2" font-weight="normal" >300</text>
<line x1="43.5" y1="309.32" x2="40.3" y2="309.32" stroke="#404040" stroke-width="1"/>
<text x="38.2" y="311.72" font-size="8.2" text-anchor="end" fill="#000" stroke="#000" stroke-width="0.2" font-weight="normal" >600</text>
<line x1="43.5" y1="280.23" x2="40.3" y2="280.23" stroke="#404040" stroke-width="1"/>
<text x="38.2" y="282.63" font-size="8.2" text-anchor="end" fill="#000" stroke="#000" stroke-width="0.2" font-weight="normal" >900</text>
<line x1="43.5" y1="251.14" x2="40.3" y2="251.14" stroke="#404040" stroke-width="1"/>
<text x="38.2" y="253.54" font-size="8.2" text-anchor="end" fill="#000" stroke="#000" stroke-width="0.2" font-weight="normal" >1200</text>
<line x1="43.5" y1="222.05" x2="40.3" y2="222.05" stroke="#404040" stroke-width="1"/>
<text x="38.2" y="224.45" font-size="8.2" text-anchor="end" fill="#000" stroke="#000" stroke-width="0.2" font-weight="normal" >1500</text>
<line x1="43.5" y1="352.95" x2="41.5" y2="352.95" stroke="#404040" stroke-width="1"/>
<line x1="43.5" y1="323.86" x2="41.5" y2="323.86" stroke="#404040" stroke-width="1"/>
<line x1="43.5" y1="294.77" x2="41.5" y2="294.77" stroke="#404040" stroke-width="1"/>
<line x1="43.5" y1="265.68" x2="41.5" y2="265.68" stroke="#404040" stroke-width="1"/>
<line x1="43.5" y1="236.59" x2="41.5" y2="236.59" stroke="#404040" stroke-width="1"/>
<text x="134.4" y="393" font-size="8.3" text-anchor="middle" fill="#000" stroke="#000" stroke-width="0.2" font-weight="normal" >Temperature (°C)</text>
<text transform="translate(14.4,285.6) rotate(-90)" x="0" y="0" font-size="8.3" text-anchor="middle" fill="#000" stroke="#000" stroke-width="0.2">C<tspan font-size="6.2" dy="2.1" letter-spacing="-0.35">2</tspan><tspan dy="-2.1">H</tspan><tspan font-size="6.2" dy="2.1" letter-spacing="-0.35">6</tspan><tspan dy="-2.1"> production rate (μmol g</tspan><tspan font-size="6.0" dy="-3.8">-1</tspan><tspan dy="3.8"> h</tspan><tspan font-size="6.0" dy="-3.8">-1</tspan><tspan dy="3.8">)</tspan></text>
<text x="49.5" y="222.5" font-size="8.3" text-anchor="start" fill="#000" stroke="#000" stroke-width="0.2" font-weight="normal" >Au/1.0%CeO<tspan font-size="6.2" dy="2.1" letter-spacing="-0.35">2</tspan><tspan dy="-2.1">/ZnO</tspan></text>
<text x="189.7" y="219.3" font-size="8.3" text-anchor="start" fill="#000" stroke="#000" stroke-width="0.2" font-weight="normal" >360 nm</text>
<polyline points="52.59,302.24 70.77,287.5 88.95,272.57 107.13,257.83 125.31,244.83 143.49,234.75 161.67,230.29 179.85,230.97 198.03,233.68 216.21,244.15" fill="none" stroke="#d4501c" stroke-width="1"/>
<path d="M52.59,300.3V304.18M50.59,300.3h4M50.59,304.18h4" stroke="#d4501c" stroke-width="1" fill="none"/>
<path d="M70.77,285.56V289.44M68.77,285.56h4M68.77,289.44h4" stroke="#d4501c" stroke-width="1" fill="none"/>
<path d="M88.95,268.2V276.93M86.95,268.2h4M86.95,276.93h4" stroke="#d4501c" stroke-width="1" fill="none"/>
<path d="M107.13,253.95V261.71M105.13,253.95h4M105.13,261.71h4" stroke="#d4501c" stroke-width="1" fill="none"/>
<path d="M125.31,241.92V247.74M123.31,241.92h4M123.31,247.74h4" stroke="#d4501c" stroke-width="1" fill="none"/>
<path d="M143.49,231.84V237.66M141.49,231.84h4M141.49,237.66h4" stroke="#d4501c" stroke-width="1" fill="none"/>
<path d="M161.67,227.38V233.2M159.67,227.38h4M159.67,233.2h4" stroke="#d4501c" stroke-width="1" fill="none"/>
<path d="M179.85,229.03V232.91M177.85,229.03h4M177.85,232.91h4" stroke="#d4501c" stroke-width="1" fill="none"/>
<path d="M198.03,230.68V236.69M196.03,230.68h4M196.03,236.69h4" stroke="#d4501c" stroke-width="1" fill="none"/>
<path d="M216.21,240.28V248.03M214.21,240.28h4M214.21,248.03h4" stroke="#d4501c" stroke-width="1" fill="none"/>
<rect x="50.49" y="300.14" width="4.2" height="4.2" fill="#d4501c"/>
<rect x="68.67" y="285.4" width="4.2" height="4.2" fill="#d4501c"/>
<rect x="86.85" y="270.47" width="4.2" height="4.2" fill="#d4501c"/>
<rect x="105.03" y="255.73" width="4.2" height="4.2" fill="#d4501c"/>
<rect x="123.21" y="242.73" width="4.2" height="4.2" fill="#d4501c"/>
<rect x="141.39" y="232.65" width="4.2" height="4.2" fill="#d4501c"/>
<rect x="159.57" y="228.19" width="4.2" height="4.2" fill="#d4501c"/>
<rect x="177.75" y="228.87" width="4.2" height="4.2" fill="#d4501c"/>
<rect x="195.93" y="231.58" width="4.2" height="4.2" fill="#d4501c"/>
<rect x="214.11" y="242.05" width="4.2" height="4.2" fill="#d4501c"/>
<polyline points="52.59,317.66 70.77,307.38 88.95,294.77 107.13,282.85 125.31,273.25 143.49,263.84 161.67,261.12 179.85,263.16 198.03,264.91 216.21,271.98" fill="none" stroke="#ef7b45" stroke-width="1"/>
<path d="M52.59,315.72V319.6M50.59,315.72h4M50.59,319.6h4" stroke="#ef7b45" stroke-width="1" fill="none"/>
<path d="M70.77,305.44V309.32M68.77,305.44h4M68.77,309.32h4" stroke="#ef7b45" stroke-width="1" fill="none"/>
<path d="M88.95,291.38V298.17M86.95,291.38h4M86.95,298.17h4" stroke="#ef7b45" stroke-width="1" fill="none"/>
<path d="M107.13,279.94V285.75M105.13,279.94h4M105.13,285.75h4" stroke="#ef7b45" stroke-width="1" fill="none"/>
<path d="M125.31,270.82V275.67M123.31,270.82h4M123.31,275.67h4" stroke="#ef7b45" stroke-width="1" fill="none"/>
<path d="M143.49,261.42V266.26M141.49,261.42h4M141.49,266.26h4" stroke="#ef7b45" stroke-width="1" fill="none"/>
<path d="M161.67,258.7V263.55M159.67,258.7h4M159.67,263.55h4" stroke="#ef7b45" stroke-width="1" fill="none"/>
<path d="M179.85,260.25V266.07M177.85,260.25h4M177.85,266.07h4" stroke="#ef7b45" stroke-width="1" fill="none"/>
<path d="M198.03,261.51V268.3M196.03,261.51h4M196.03,268.3h4" stroke="#ef7b45" stroke-width="1" fill="none"/>
<path d="M216.21,268.59V275.38M214.21,268.59h4M214.21,275.38h4" stroke="#ef7b45" stroke-width="1" fill="none"/>
<rect x="50.49" y="315.56" width="4.2" height="4.2" fill="#ef7b45"/>
<rect x="68.67" y="305.28" width="4.2" height="4.2" fill="#ef7b45"/>
<rect x="86.85" y="292.67" width="4.2" height="4.2" fill="#ef7b45"/>
<rect x="105.03" y="280.75" width="4.2" height="4.2" fill="#ef7b45"/>
<rect x="123.21" y="271.15" width="4.2" height="4.2" fill="#ef7b45"/>
<rect x="141.39" y="261.74" width="4.2" height="4.2" fill="#ef7b45"/>
<rect x="159.57" y="259.02" width="4.2" height="4.2" fill="#ef7b45"/>
<rect x="177.75" y="261.06" width="4.2" height="4.2" fill="#ef7b45"/>
<rect x="195.93" y="262.81" width="4.2" height="4.2" fill="#ef7b45"/>
<rect x="214.11" y="269.88" width="4.2" height="4.2" fill="#ef7b45"/>
<polyline points="52.59,335.21 70.77,329.29 88.95,322.6 107.13,316.11 125.31,308.35 143.49,303.31 161.67,300.01 179.85,301.17 198.03,304.76 216.21,309.03" fill="none" stroke="#f5a27e" stroke-width="1"/>
<path d="M52.59,333.27V337.15M50.59,333.27h4M50.59,337.15h4" stroke="#f5a27e" stroke-width="1" fill="none"/>
<path d="M70.77,327.35V331.23M68.77,327.35h4M68.77,331.23h4" stroke="#f5a27e" stroke-width="1" fill="none"/>
<path d="M88.95,319.69V325.51M86.95,319.69h4M86.95,325.51h4" stroke="#f5a27e" stroke-width="1" fill="none"/>
<path d="M107.13,313.2V319.02M105.13,313.2h4M105.13,319.02h4" stroke="#f5a27e" stroke-width="1" fill="none"/>
<path d="M125.31,305.44V311.26M123.31,305.44h4M123.31,311.26h4" stroke="#f5a27e" stroke-width="1" fill="none"/>
<path d="M143.49,299.91V306.7M141.49,299.91h4M141.49,306.7h4" stroke="#f5a27e" stroke-width="1" fill="none"/>
<path d="M161.67,296.71V303.31M159.67,296.71h4M159.67,303.31h4" stroke="#f5a27e" stroke-width="1" fill="none"/>
<path d="M179.85,297.68V304.66M177.85,297.68h4M177.85,304.66h4" stroke="#f5a27e" stroke-width="1" fill="none"/>
<path d="M198.03,301.37V308.15M196.03,301.37h4M196.03,308.15h4" stroke="#f5a27e" stroke-width="1" fill="none"/>
<path d="M216.21,305.15V312.91M214.21,305.15h4M214.21,312.91h4" stroke="#f5a27e" stroke-width="1" fill="none"/>
<rect x="50.49" y="333.11" width="4.2" height="4.2" fill="#f5a27e"/>
<rect x="68.67" y="327.19" width="4.2" height="4.2" fill="#f5a27e"/>
<rect x="86.85" y="320.5" width="4.2" height="4.2" fill="#f5a27e"/>
<rect x="105.03" y="314.01" width="4.2" height="4.2" fill="#f5a27e"/>
<rect x="123.21" y="306.25" width="4.2" height="4.2" fill="#f5a27e"/>
<rect x="141.39" y="301.21" width="4.2" height="4.2" fill="#f5a27e"/>
<rect x="159.57" y="297.91" width="4.2" height="4.2" fill="#f5a27e"/>
<rect x="177.75" y="299.07" width="4.2" height="4.2" fill="#f5a27e"/>
<rect x="195.93" y="302.66" width="4.2" height="4.2" fill="#f5a27e"/>
<rect x="214.11" y="306.93" width="4.2" height="4.2" fill="#f5a27e"/>
<line x1="143.5" y1="246.8" x2="162.4" y2="246.8" stroke="#d4501c" stroke-width="1"/>
<rect x="150.75" y="244.6" width="4.4" height="4.4" fill="#d4501c"/>
<text x="164.3" y="250.1" font-size="8.3" fill="#000" stroke="#000" stroke-width="0.2">21 mW cm<tspan font-size="6.0" dy="-3.8">-2</tspan></text>
<line x1="146.6" y1="281.8" x2="164.8" y2="281.8" stroke="#ef7b45" stroke-width="1"/>
<rect x="153.5" y="279.6" width="4.4" height="4.4" fill="#ef7b45"/>
<text x="167.2" y="285.1" font-size="8.3" fill="#000" stroke="#000" stroke-width="0.2">16 mW cm<tspan font-size="6.0" dy="-3.8">-2</tspan></text>
<line x1="146.6" y1="318.4" x2="164.8" y2="318.4" stroke="#f5a27e" stroke-width="1"/>
<rect x="153.5" y="316.2" width="4.4" height="4.4" fill="#f5a27e"/>
<text x="167.2" y="321.7" font-size="8.3" fill="#000" stroke="#000" stroke-width="0.2">10 mW cm<tspan font-size="6.0" dy="-3.8">-2</tspan></text>
<text transform="translate(234.4,212) scale(0.9,1)" font-size="14.2" font-weight="bold" fill="#000">e</text>
<line x1="261" y1="207.5" x2="443.8" y2="207.5" stroke="#5c5c5c" stroke-width="1"/>
<line x1="261" y1="367.5" x2="443.8" y2="367.5" stroke="#5c5c5c" stroke-width="1"/>
<line x1="261.5" y1="207.5" x2="261.5" y2="367.5" stroke="#5c5c5c" stroke-width="1"/>
<line x1="443.3" y1="207.5" x2="443.3" y2="367.5" stroke="#5c5c5c" stroke-width="1"/>
<line x1="270.59" y1="367.5" x2="270.59" y2="370.5" stroke="#404040" stroke-width="1"/>
<text x="270.59" y="378.9" font-size="8.2" text-anchor="middle" fill="#000" stroke="#000" stroke-width="0.2" font-weight="normal" >80</text>
<line x1="288.77" y1="367.5" x2="288.77" y2="370.5" stroke="#404040" stroke-width="1"/>
<text x="288.77" y="378.9" font-size="8.2" text-anchor="middle" fill="#000" stroke="#000" stroke-width="0.2" font-weight="normal" >100</text>
<line x1="306.95" y1="367.5" x2="306.95" y2="370.5" stroke="#404040" stroke-width="1"/>
<text x="306.95" y="378.9" font-size="8.2" text-anchor="middle" fill="#000" stroke="#000" stroke-width="0.2" font-weight="normal" >120</text>
<line x1="325.13" y1="367.5" x2="325.13" y2="370.5" stroke="#404040" stroke-width="1"/>
<text x="325.13" y="378.9" font-size="8.2" text-anchor="middle" fill="#000" stroke="#000" stroke-width="0.2" font-weight="normal" >140</text>
<line x1="343.31" y1="367.5" x2="343.31" y2="370.5" stroke="#404040" stroke-width="1"/>
<text x="343.31" y="378.9" font-size="8.2" text-anchor="middle" fill="#000" stroke="#000" stroke-width="0.2" font-weight="normal" >160</text>
<line x1="361.49" y1="367.5" x2="361.49" y2="370.5" stroke="#404040" stroke-width="1"/>
<text x="361.49" y="378.9" font-size="8.2" text-anchor="middle" fill="#000" stroke="#000" stroke-width="0.2" font-weight="normal" >180</text>
<line x1="379.67" y1="367.5" x2="379.67" y2="370.5" stroke="#404040" stroke-width="1"/>
<text x="379.67" y="378.9" font-size="8.2" text-anchor="middle" fill="#000" stroke="#000" stroke-width="0.2" font-weight="normal" >200</text>
<line x1="397.85" y1="367.5" x2="397.85" y2="370.5" stroke="#404040" stroke-width="1"/>
<text x="397.85" y="378.9" font-size="8.2" text-anchor="middle" fill="#000" stroke="#000" stroke-width="0.2" font-weight="normal" >220</text>
<line x1="416.03" y1="367.5" x2="416.03" y2="370.5" stroke="#404040" stroke-width="1"/>
<text x="416.03" y="378.9" font-size="8.2" text-anchor="middle" fill="#000" stroke="#000" stroke-width="0.2" font-weight="normal" >240</text>
<line x1="434.21" y1="367.5" x2="434.21" y2="370.5" stroke="#404040" stroke-width="1"/>
<text x="434.21" y="378.9" font-size="8.2" text-anchor="middle" fill="#000" stroke="#000" stroke-width="0.2" font-weight="normal" >260</text>
<line x1="279.68" y1="367.5" x2="279.68" y2="369.3" stroke="#404040" stroke-width="1"/>
<line x1="297.86" y1="367.5" x2="297.86" y2="369.3" stroke="#404040" stroke-width="1"/>
<line x1="316.04" y1="367.5" x2="316.04" y2="369.3" stroke="#404040" stroke-width="1"/>
<line x1="334.22" y1="367.5" x2="334.22" y2="369.3" stroke="#404040" stroke-width="1"/>
<line x1="352.4" y1="367.5" x2="352.4" y2="369.3" stroke="#404040" stroke-width="1"/>
<line x1="370.58" y1="367.5" x2="370.58" y2="369.3" stroke="#404040" stroke-width="1"/>
<line x1="388.76" y1="367.5" x2="388.76" y2="369.3" stroke="#404040" stroke-width="1"/>
<line x1="406.94" y1="367.5" x2="406.94" y2="369.3" stroke="#404040" stroke-width="1"/>
<line x1="425.12" y1="367.5" x2="425.12" y2="369.3" stroke="#404040" stroke-width="1"/>
<line x1="261.5" y1="367.5" x2="258.3" y2="367.5" stroke="#404040" stroke-width="1"/>
<text x="256.2" y="369.9" font-size="8.2" text-anchor="end" fill="#000" stroke="#000" stroke-width="0.2" font-weight="normal" >0</text>
<line x1="261.5" y1="331.94" x2="258.3" y2="331.94" stroke="#404040" stroke-width="1"/>
<text x="256.2" y="334.34" font-size="8.2" text-anchor="end" fill="#000" stroke="#000" stroke-width="0.2" font-weight="normal" >10</text>
<line x1="261.5" y1="296.39" x2="258.3" y2="296.39" stroke="#404040" stroke-width="1"/>
<text x="256.2" y="298.79" font-size="8.2" text-anchor="end" fill="#000" stroke="#000" stroke-width="0.2" font-weight="normal" >20</text>
<line x1="261.5" y1="260.83" x2="258.3" y2="260.83" stroke="#404040" stroke-width="1"/>
<text x="256.2" y="263.23" font-size="8.2" text-anchor="end" fill="#000" stroke="#000" stroke-width="0.2" font-weight="normal" >30</text>
<line x1="261.5" y1="225.28" x2="258.3" y2="225.28" stroke="#404040" stroke-width="1"/>
<text x="256.2" y="227.68" font-size="8.2" text-anchor="end" fill="#000" stroke="#000" stroke-width="0.2" font-weight="normal" >40</text>
<line x1="261.5" y1="349.72" x2="259.5" y2="349.72" stroke="#404040" stroke-width="1"/>
<line x1="261.5" y1="314.17" x2="259.5" y2="314.17" stroke="#404040" stroke-width="1"/>
<line x1="261.5" y1="278.61" x2="259.5" y2="278.61" stroke="#404040" stroke-width="1"/>
<line x1="261.5" y1="243.06" x2="259.5" y2="243.06" stroke="#404040" stroke-width="1"/>
<text x="352.4" y="393" font-size="8.3" text-anchor="middle" fill="#000" stroke="#000" stroke-width="0.2" font-weight="normal" >Temperature (°C)</text>
<text transform="translate(242.8,287.6) rotate(-90)" x="0" y="0" font-size="8.3" text-anchor="middle" fill="#000" stroke="#000" stroke-width="0.2">AQE (%)</text>
<text x="274.8" y="223.3" font-size="8.3" text-anchor="start" fill="#000" stroke="#000" stroke-width="0.2" font-weight="normal" >360 nm, 20 mW cm<tspan font-size="6.0" dy="-3.8">-2</tspan></text>
<polyline points="270.59,301.72 288.77,287.86 306.95,272.92 325.13,258.34 343.31,244.48 361.49,234.88 379.67,230.26 397.85,230.97 416.03,234.17 434.21,244.48" fill="none" stroke="#ff1010" stroke-width="1"/>
<path d="M270.59,300.3V303.14M268.59,300.3h4M268.59,303.14h4" stroke="#ff1010" stroke-width="1" fill="none"/>
<path d="M288.77,286.43V289.28M286.77,286.43h4M286.77,289.28h4" stroke="#ff1010" stroke-width="1" fill="none"/>
<path d="M306.95,269.01V276.83M304.95,269.01h4M304.95,276.83h4" stroke="#ff1010" stroke-width="1" fill="none"/>
<path d="M325.13,254.43V262.26M323.13,254.43h4M323.13,262.26h4" stroke="#ff1010" stroke-width="1" fill="none"/>
<path d="M343.31,241.28V247.68M341.31,241.28h4M341.31,247.68h4" stroke="#ff1010" stroke-width="1" fill="none"/>
<path d="M361.49,231.5V238.26M359.49,231.5h4M359.49,238.26h4" stroke="#ff1010" stroke-width="1" fill="none"/>
<path d="M379.67,228.12V232.39M377.67,228.12h4M377.67,232.39h4" stroke="#ff1010" stroke-width="1" fill="none"/>
<path d="M397.85,228.83V233.1M395.85,228.83h4M395.85,233.1h4" stroke="#ff1010" stroke-width="1" fill="none"/>
<path d="M416.03,231.07V237.26M414.03,231.07h4M414.03,237.26h4" stroke="#ff1010" stroke-width="1" fill="none"/>
<path d="M434.21,241.28V247.68M432.21,241.28h4M432.21,247.68h4" stroke="#ff1010" stroke-width="1" fill="none"/>
<rect x="268.49" y="299.62" width="4.2" height="4.2" fill="#ff1010"/>
<rect x="286.67" y="285.76" width="4.2" height="4.2" fill="#ff1010"/>
<rect x="304.85" y="270.82" width="4.2" height="4.2" fill="#ff1010"/>
<rect x="323.03" y="256.24" width="4.2" height="4.2" fill="#ff1010"/>
<rect x="341.21" y="242.38" width="4.2" height="4.2" fill="#ff1010"/>
<rect x="359.39" y="232.78" width="4.2" height="4.2" fill="#ff1010"/>
<rect x="377.57" y="228.16" width="4.2" height="4.2" fill="#ff1010"/>
<rect x="395.75" y="228.87" width="4.2" height="4.2" fill="#ff1010"/>
<rect x="413.93" y="232.07" width="4.2" height="4.2" fill="#ff1010"/>
<rect x="432.11" y="242.38" width="4.2" height="4.2" fill="#ff1010"/>
<polyline points="270.59,328.39 288.77,314.88 306.95,307.41 325.13,301.01 343.31,297.46 361.49,297.1 379.67,299.59 397.85,304.21 416.03,311.68 434.21,323.41" fill="none" stroke="#000000" stroke-width="1"/>
<path d="M270.59,325.3V331.48M268.59,325.3h4M268.59,331.48h4" stroke="#000000" stroke-width="1" fill="none"/>
<path d="M288.77,312.21V317.54M286.77,312.21h4M286.77,317.54h4" stroke="#000000" stroke-width="1" fill="none"/>
<path d="M306.95,304.74V310.08M304.95,304.74h4M304.95,310.08h4" stroke="#000000" stroke-width="1" fill="none"/>
<path d="M325.13,297.46V304.57M323.13,297.46h4M323.13,304.57h4" stroke="#000000" stroke-width="1" fill="none"/>
<path d="M343.31,293.72V301.19M341.31,293.72h4M341.31,301.19h4" stroke="#000000" stroke-width="1" fill="none"/>
<path d="M361.49,293.54V300.66M359.49,293.54h4M359.49,300.66h4" stroke="#000000" stroke-width="1" fill="none"/>
<path d="M379.67,296.21V302.97M377.67,296.21h4M377.67,302.97h4" stroke="#000000" stroke-width="1" fill="none"/>
<path d="M397.85,302.43V305.99M395.85,302.43h4M395.85,305.99h4" stroke="#000000" stroke-width="1" fill="none"/>
<path d="M416.03,308.58V314.77M414.03,308.58h4M414.03,314.77h4" stroke="#000000" stroke-width="1" fill="none"/>
<path d="M434.21,320.21V326.61M432.21,320.21h4M432.21,326.61h4" stroke="#000000" stroke-width="1" fill="none"/>
<circle cx="270.59" cy="328.39" r="2.3" fill="#000000"/>
<circle cx="288.77" cy="314.88" r="2.3" fill="#000000"/>
<circle cx="306.95" cy="307.41" r="2.3" fill="#000000"/>
<circle cx="325.13" cy="301.01" r="2.3" fill="#000000"/>
<circle cx="343.31" cy="297.46" r="2.3" fill="#000000"/>
<circle cx="361.49" cy="297.1" r="2.3" fill="#000000"/>
<circle cx="379.67" cy="299.59" r="2.3" fill="#000000"/>
<circle cx="397.85" cy="304.21" r="2.3" fill="#000000"/>
<circle cx="416.03" cy="311.68" r="2.3" fill="#000000"/>
<circle cx="434.21" cy="323.41" r="2.3" fill="#000000"/>
<line x1="344.6" y1="266.5" x2="363.3" y2="266.5" stroke="#ff1010" stroke-width="1"/>
<rect x="351.95" y="264.5" width="4" height="4" fill="#ff1010"/>
<text x="363.8" y="269.8" font-size="8.3" fill="#ff1010" stroke="#ff1010" stroke-width="0.2">Au/1.0%CeO<tspan font-size="6.2" dy="2.1" letter-spacing="-0.35">2</tspan><tspan dy="-2.1">/ZnO</tspan></text>
<line x1="344.6" y1="278.3" x2="363.3" y2="278.3" stroke="#000000" stroke-width="1"/>
<circle cx="353.95" cy="278.3" r="2.3" fill="#000000"/>
<text x="365.8" y="281.6" font-size="8.3" fill="#000" stroke="#000" stroke-width="0.2">Au/ZnO</text>
<text transform="translate(451.2,213.6) scale(0.9,1)" font-size="14.2" font-weight="bold" fill="#000">f</text>
<line x1="478" y1="207.5" x2="656" y2="207.5" stroke="#5c5c5c" stroke-width="1"/>
<line x1="478" y1="367.5" x2="656" y2="367.5" stroke="#5c5c5c" stroke-width="1"/>
<line x1="478.3" y1="207.5" x2="478.3" y2="367.5" stroke="#ff7f7f" stroke-width="1.3"/>
<line x1="655.3" y1="207.5" x2="655.3" y2="367.5" stroke="#9a9a9a" stroke-width="1.4"/>
<line x1="478.5" y1="367.5" x2="478.5" y2="370.5" stroke="#404040" stroke-width="1"/>
<text x="478.5" y="378.9" font-size="8.2" text-anchor="middle" fill="#000" stroke="#000" stroke-width="0.2" font-weight="normal" >300</text>
<line x1="513.9" y1="367.5" x2="513.9" y2="370.5" stroke="#404040" stroke-width="1"/>
<text x="513.9" y="378.9" font-size="8.2" text-anchor="middle" fill="#000" stroke="#000" stroke-width="0.2" font-weight="normal" >400</text>
<line x1="549.3" y1="367.5" x2="549.3" y2="370.5" stroke="#404040" stroke-width="1"/>
<text x="549.3" y="378.9" font-size="8.2" text-anchor="middle" fill="#000" stroke="#000" stroke-width="0.2" font-weight="normal" >500</text>
<line x1="584.7" y1="367.5" x2="584.7" y2="370.5" stroke="#404040" stroke-width="1"/>
<text x="584.7" y="378.9" font-size="8.2" text-anchor="middle" fill="#000" stroke="#000" stroke-width="0.2" font-weight="normal" >600</text>
<line x1="620.1" y1="367.5" x2="620.1" y2="370.5" stroke="#404040" stroke-width="1"/>
<text x="620.1" y="378.9" font-size="8.2" text-anchor="middle" fill="#000" stroke="#000" stroke-width="0.2" font-weight="normal" >700</text>
<line x1="655.5" y1="367.5" x2="655.5" y2="370.5" stroke="#404040" stroke-width="1"/>
<text x="655.5" y="378.9" font-size="8.2" text-anchor="middle" fill="#000" stroke="#000" stroke-width="0.2" font-weight="normal" >800</text>
<line x1="496.2" y1="367.5" x2="496.2" y2="369.3" stroke="#404040" stroke-width="1"/>
<line x1="531.6" y1="367.5" x2="531.6" y2="369.3" stroke="#404040" stroke-width="1"/>
<line x1="567" y1="367.5" x2="567" y2="369.3" stroke="#404040" stroke-width="1"/>
<line x1="602.4" y1="367.5" x2="602.4" y2="369.3" stroke="#404040" stroke-width="1"/>
<line x1="637.8" y1="367.5" x2="637.8" y2="369.3" stroke="#404040" stroke-width="1"/>
<line x1="478.5" y1="367.5" x2="475.3" y2="367.5" stroke="#ff7070" stroke-width="1"/>
<text x="473.2" y="369.9" font-size="8.2" text-anchor="end" fill="#ff1010" stroke="#ff1010" stroke-width="0.2" font-weight="normal" >0</text>
<line x1="478.5" y1="331.94" x2="475.3" y2="331.94" stroke="#ff7070" stroke-width="1"/>
<text x="473.2" y="334.34" font-size="8.2" text-anchor="end" fill="#ff1010" stroke="#ff1010" stroke-width="0.2" font-weight="normal" >10</text>
<line x1="478.5" y1="296.39" x2="475.3" y2="296.39" stroke="#ff7070" stroke-width="1"/>
<text x="473.2" y="298.79" font-size="8.2" text-anchor="end" fill="#ff1010" stroke="#ff1010" stroke-width="0.2" font-weight="normal" >20</text>
<line x1="478.5" y1="260.83" x2="475.3" y2="260.83" stroke="#ff7070" stroke-width="1"/>
<text x="473.2" y="263.23" font-size="8.2" text-anchor="end" fill="#ff1010" stroke="#ff1010" stroke-width="0.2" font-weight="normal" >30</text>
<line x1="478.5" y1="225.28" x2="475.3" y2="225.28" stroke="#ff7070" stroke-width="1"/>
<text x="473.2" y="227.68" font-size="8.2" text-anchor="end" fill="#ff1010" stroke="#ff1010" stroke-width="0.2" font-weight="normal" >40</text>
<line x1="478.5" y1="349.72" x2="476.5" y2="349.72" stroke="#ff7070" stroke-width="1"/>
<line x1="478.5" y1="314.17" x2="476.5" y2="314.17" stroke="#ff7070" stroke-width="1"/>
<line x1="478.5" y1="278.61" x2="476.5" y2="278.61" stroke="#ff7070" stroke-width="1"/>
<line x1="478.5" y1="243.06" x2="476.5" y2="243.06" stroke="#ff7070" stroke-width="1"/>
<line x1="655.5" y1="367.5" x2="658.7" y2="367.5" stroke="#666" stroke-width="1"/>
<text x="660.8" y="369.9" font-size="8.2" text-anchor="start" fill="#000" stroke="#000" stroke-width="0.2" font-weight="normal" >0</text>
<line x1="655.5" y1="327.5" x2="658.7" y2="327.5" stroke="#666" stroke-width="1"/>
<text x="660.8" y="329.9" font-size="8.2" text-anchor="start" fill="#000" stroke="#000" stroke-width="0.2" font-weight="normal" >5</text>
<line x1="655.5" y1="287.5" x2="658.7" y2="287.5" stroke="#666" stroke-width="1"/>
<text x="660.8" y="289.9" font-size="8.2" text-anchor="start" fill="#000" stroke="#000" stroke-width="0.2" font-weight="normal" >10</text>
<line x1="655.5" y1="247.5" x2="658.7" y2="247.5" stroke="#666" stroke-width="1"/>
<text x="660.8" y="249.9" font-size="8.2" text-anchor="start" fill="#000" stroke="#000" stroke-width="0.2" font-weight="normal" >15</text>
<line x1="655.5" y1="207.5" x2="658.7" y2="207.5" stroke="#666" stroke-width="1"/>
<text x="660.8" y="209.9" font-size="8.2" text-anchor="start" fill="#000" stroke="#000" stroke-width="0.2" font-weight="normal" >20</text>
<line x1="655.5" y1="347.5" x2="657.5" y2="347.5" stroke="#666" stroke-width="1"/>
<line x1="655.5" y1="307.5" x2="657.5" y2="307.5" stroke="#666" stroke-width="1"/>
<line x1="655.5" y1="267.5" x2="657.5" y2="267.5" stroke="#666" stroke-width="1"/>
<line x1="655.5" y1="227.5" x2="657.5" y2="227.5" stroke="#666" stroke-width="1"/>
<text x="567" y="392.8" font-size="8.3" text-anchor="middle" fill="#000" stroke="#000" stroke-width="0.2" font-weight="normal" >Wavelength (nm)</text>
<text transform="translate(457.9,287.5) rotate(-90)" x="0" y="0" font-size="8.3" text-anchor="middle" fill="#ff1010" stroke="#ff1010" stroke-width="0.2">AQE (%)</text>
<text transform="translate(672.2,286.3) rotate(90)" x="0" y="0" font-size="8.3" text-anchor="middle" fill="#000" stroke="#000" stroke-width="0.2">Kubelka-Munk function</text>
<text x="556.4" y="236" font-size="8.3" text-anchor="start" fill="#000" stroke="#000" stroke-width="0.2" font-weight="normal" >AQE at 200 °C</text>
<polyline points="478.4,253.7 481.2,249.3 483.8,245.4 486.4,240.7 489,239.6 491.7,236.7 493.4,235.9 495.1,233.3 497.3,232 498.4,232.4 499,234.6 499.9,242.4 501.2,248.5 502.5,256.3 503.2,265 503.6,275 504,285 504.5,295 505.2,305 506,315 507,324 508.5,331.5 510.5,335.6 512.6,337.9 516.6,338.5 523.1,337.6 529.7,336.7 536.3,335.2 542.9,332.3 549.4,328.4 556,324.2 562.6,321.6 566.5,321.2 571.8,322.1 578.3,325.1 584.9,329.7 591.5,335 595,337.6 599.7,340.4 604.5,343.3 609.2,345.7 614,348 618.7,350.1 623.5,351.8 628.2,353.5 633,354.9 637.7,356.3 642.4,357.2 647.2,357.8 651.9,358.3 654.8,358.5" fill="none" stroke="#1a1a1a" stroke-width="1" stroke-dasharray="1.6,1"/>
<path d="M499.14,227.94V231.86M497.14,227.94h4M497.14,231.86h4" stroke="#ff1010" stroke-width="1" fill="none"/>
<circle cx="499.14" cy="229.9" r="2.3" fill="#ff1010"/>
<path d="M502.68,260.3V263.5M500.68,260.3h4M500.68,263.5h4" stroke="#ff1010" stroke-width="1" fill="none"/>
<circle cx="502.68" cy="261.9" r="2.3" fill="#ff1010"/>
<circle cx="506.22" cy="297.1" r="2.3" fill="#ff1010"/>
<path d="M509.76,342.61V345.46M507.76,342.61h4M507.76,345.46h4" stroke="#ff1010" stroke-width="1" fill="none"/>
<circle cx="509.76" cy="344.03" r="2.3" fill="#ff1010"/>
<path d="M517.98,367A2.4,2.4 0 0 1 522.78,367Z" fill="#ff1010"/>
</svg>
</body></html>
